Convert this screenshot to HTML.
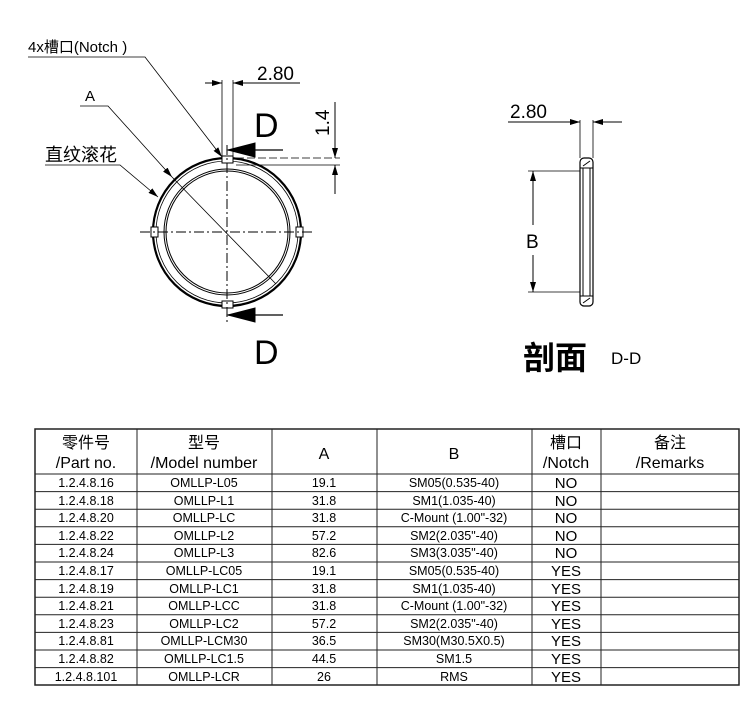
<!DOCTYPE html>
<html><head><meta charset="utf-8"><style>
body{margin:0;background:#fff;width:750px;height:709px;overflow:hidden}
svg{display:block}
text{font-family:"Liberation Sans","Noto Sans CJK SC",sans-serif;fill:#000}
</style></head><body>
<svg width="750" height="709" viewBox="0 0 750 709" xmlns="http://www.w3.org/2000/svg">
<defs>
<marker id="ar" viewBox="0 0 10 6" refX="10" refY="3" markerWidth="10" markerHeight="6" orient="auto" markerUnits="userSpaceOnUse"><path d="M0,0L10,3L0,6z"/></marker>
</defs>
<g stroke="#000" fill="none" stroke-width="1">
<circle cx="227" cy="232" r="74" stroke-width="2.2"/>
<circle cx="227" cy="232" r="71" stroke-width="0.8"/>
<circle cx="227" cy="232" r="63"/>
<circle cx="227" cy="232" r="61"/>
<rect x="222" y="156" width="11" height="7" fill="#fff"/>
<rect x="222" y="301" width="11" height="7" fill="#fff"/>
<rect x="151" y="227" width="7" height="10" fill="#fff"/>
<rect x="296" y="227" width="7" height="10" fill="#fff"/>
<line x1="227" y1="145" x2="227" y2="325" stroke-dasharray="10,3,2,3"/>
<line x1="140" y1="232" x2="312" y2="232" stroke-dasharray="10,3,2,3"/>
<line x1="222" y1="80" x2="222" y2="157" stroke-width="0.8"/>
<line x1="233" y1="80" x2="233" y2="157" stroke-width="0.8"/>
<line x1="205" y1="83" x2="222" y2="83" marker-end="url(#ar)"/>
<line x1="300" y1="83" x2="233" y2="83" marker-end="url(#ar)"/>
<line x1="283" y1="150" x2="228" y2="150" stroke-width="1.2"/>
<path d="M228,150L255,143L255,157z" fill="#000"/>
<line x1="283" y1="315" x2="228" y2="315" stroke-width="1.2"/>
<path d="M228,315L255,308L255,322z" fill="#000"/>
<line x1="236" y1="158" x2="340" y2="158" stroke-dasharray="8,3" stroke-width="0.8"/>
<line x1="236" y1="165" x2="340" y2="165" stroke-width="0.8"/>
<line x1="335" y1="102" x2="335" y2="158" marker-end="url(#ar)"/>
<line x1="335" y1="194" x2="335" y2="165" marker-end="url(#ar)"/>
<polyline points="28,57 145,57 222,157" marker-end="url(#ar)" stroke-width="0.8"/>
<polyline points="80,106 108,106 172,177" marker-end="url(#ar)" stroke-width="0.8"/>
<line x1="172" y1="177" x2="276" y2="284" stroke-width="0.8"/>
<polyline points="45,165 120,165 158,197" marker-end="url(#ar)" stroke-width="0.8"/>
<rect x="580" y="158" width="13" height="148" rx="4" stroke-width="1.2"/>
<line x1="583" y1="168" x2="583" y2="296"/>
<line x1="590" y1="168" x2="590" y2="296"/>
<line x1="580" y1="168" x2="593" y2="168"/>
<line x1="580" y1="296" x2="593" y2="296"/>
<line x1="583" y1="166" x2="590" y2="161"/>
<line x1="583" y1="303" x2="590" y2="298"/>
<line x1="580" y1="120" x2="580" y2="158" stroke-width="0.8"/>
<line x1="593" y1="120" x2="593" y2="158" stroke-width="0.8"/>
<line x1="508" y1="122" x2="580" y2="122" marker-end="url(#ar)"/>
<line x1="622" y1="122" x2="593" y2="122" marker-end="url(#ar)"/>
<line x1="528" y1="171" x2="580" y2="171" stroke-width="0.8"/>
<line x1="528" y1="292" x2="580" y2="292" stroke-width="0.8"/>
<line x1="533" y1="225" x2="533" y2="171" marker-end="url(#ar)"/>
<line x1="533" y1="255" x2="533" y2="292" marker-end="url(#ar)"/>
</g>
<text x="28" y="52" font-size="15">4x槽口(Notch )</text>
<text x="85" y="101" font-size="15">A</text>
<text x="45" y="161" font-size="18">直纹滚花</text>
<text x="257" y="80" font-size="19">2.80</text>
<text x="254" y="137" font-size="34" font-weight="lighter" style="font-weight:300">D</text>
<text x="254" y="364" font-size="34" style="font-weight:300">D</text>
<text transform="translate(329,136) rotate(-90)" font-size="19">1.4</text>
<text x="510" y="118" font-size="19">2.80</text>
<rect x="522" y="228" width="22" height="24" fill="#fff"/>
<text x="526" y="248" font-size="19">B</text>
<text x="523" y="369" font-size="32" font-weight="bold">剖面</text>
<text x="611" y="364" font-size="17">D-D</text>
<g stroke="#222" stroke-width="1">
<rect x="35" y="429" width="704" height="256" fill="none" stroke-width="1.5"/>
<line x1="35" y1="474" x2="739" y2="474"/>
<line x1="137" y1="429" x2="137" y2="685"/>
<line x1="272" y1="429" x2="272" y2="685"/>
<line x1="377" y1="429" x2="377" y2="685"/>
<line x1="532" y1="429" x2="532" y2="685"/>
<line x1="601" y1="429" x2="601" y2="685"/>
<line x1="35" y1="491.6" x2="739" y2="491.6"/><line x1="35" y1="509.2" x2="739" y2="509.2"/><line x1="35" y1="526.8" x2="739" y2="526.8"/><line x1="35" y1="544.4" x2="739" y2="544.4"/><line x1="35" y1="562" x2="739" y2="562"/><line x1="35" y1="579.6" x2="739" y2="579.6"/><line x1="35" y1="597.2" x2="739" y2="597.2"/><line x1="35" y1="614.8" x2="739" y2="614.8"/><line x1="35" y1="632.4" x2="739" y2="632.4"/><line x1="35" y1="650" x2="739" y2="650"/><line x1="35" y1="667.6" x2="739" y2="667.6"/>
</g>
<g font-size="16" text-anchor="middle">
<text x="86" y="448">零件号</text><text x="86" y="468">/Part no.</text>
<text x="204" y="448">型号</text><text x="204" y="468">/Model number</text>
<text x="324" y="459">A</text>
<text x="454" y="459">B</text>
<text x="566" y="448">槽口</text><text x="566" y="468">/Notch</text>
<text x="670" y="448">备注</text><text x="670" y="468">/Remarks</text>
</g>
<g font-size="12.5" text-anchor="middle">
<text x="86" y="487">1.2.4.8.16</text><text x="204" y="487">OMLLP-L05</text><text x="324" y="487">19.1</text><text x="454" y="487">SM05(0.535-40)</text><text x="566" y="488" font-size="15">NO</text>
<text x="86" y="505">1.2.4.8.18</text><text x="204" y="505">OMLLP-L1</text><text x="324" y="505">31.8</text><text x="454" y="505">SM1(1.035-40)</text><text x="566" y="506" font-size="15">NO</text>
<text x="86" y="522">1.2.4.8.20</text><text x="204" y="522">OMLLP-LC</text><text x="324" y="522">31.8</text><text x="454" y="522">C-Mount (1.00"-32)</text><text x="566" y="523" font-size="15">NO</text>
<text x="86" y="540">1.2.4.8.22</text><text x="204" y="540">OMLLP-L2</text><text x="324" y="540">57.2</text><text x="454" y="540">SM2(2.035"-40)</text><text x="566" y="541" font-size="15">NO</text>
<text x="86" y="557">1.2.4.8.24</text><text x="204" y="557">OMLLP-L3</text><text x="324" y="557">82.6</text><text x="454" y="557">SM3(3.035"-40)</text><text x="566" y="558" font-size="15">NO</text>
<text x="86" y="575">1.2.4.8.17</text><text x="204" y="575">OMLLP-LC05</text><text x="324" y="575">19.1</text><text x="454" y="575">SM05(0.535-40)</text><text x="566" y="576" font-size="15">YES</text>
<text x="86" y="593">1.2.4.8.19</text><text x="204" y="593">OMLLP-LC1</text><text x="324" y="593">31.8</text><text x="454" y="593">SM1(1.035-40)</text><text x="566" y="594" font-size="15">YES</text>
<text x="86" y="610">1.2.4.8.21</text><text x="204" y="610">OMLLP-LCC</text><text x="324" y="610">31.8</text><text x="454" y="610">C-Mount (1.00"-32)</text><text x="566" y="611" font-size="15">YES</text>
<text x="86" y="628">1.2.4.8.23</text><text x="204" y="628">OMLLP-LC2</text><text x="324" y="628">57.2</text><text x="454" y="628">SM2(2.035"-40)</text><text x="566" y="629" font-size="15">YES</text>
<text x="86" y="645">1.2.4.8.81</text><text x="204" y="645">OMLLP-LCM30</text><text x="324" y="645">36.5</text><text x="454" y="645">SM30(M30.5X0.5)</text><text x="566" y="646" font-size="15">YES</text>
<text x="86" y="663">1.2.4.8.82</text><text x="204" y="663">OMLLP-LC1.5</text><text x="324" y="663">44.5</text><text x="454" y="663">SM1.5</text><text x="566" y="664" font-size="15">YES</text>
<text x="86" y="681">1.2.4.8.101</text><text x="204" y="681">OMLLP-LCR</text><text x="324" y="681">26</text><text x="454" y="681">RMS</text><text x="566" y="682" font-size="15">YES</text>
</g>
</svg>
</body></html>
